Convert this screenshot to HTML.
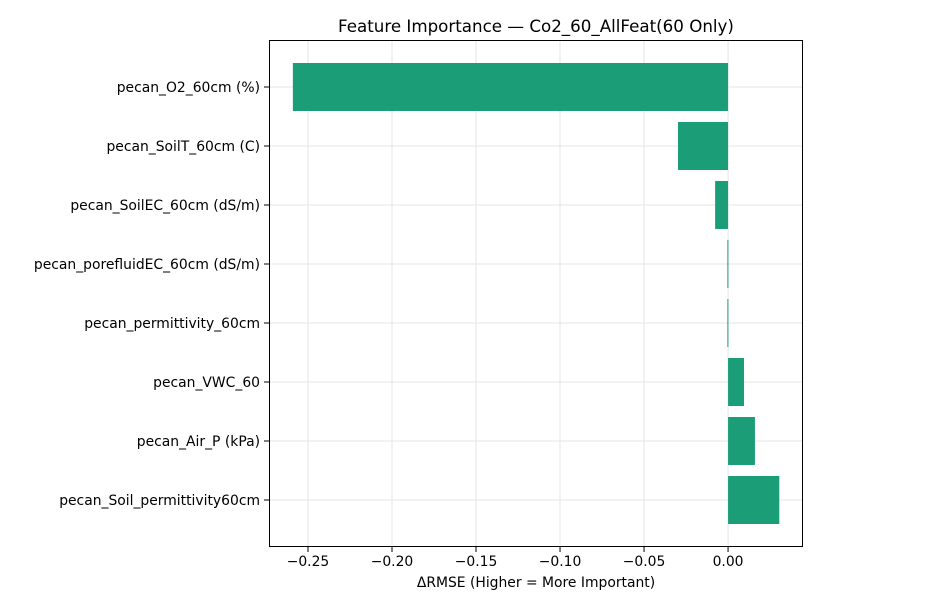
<!DOCTYPE html>
<html><head><meta charset="utf-8"><style>
body{margin:0;background:#fff;width:925px;height:612px;overflow:hidden;font-family:"DejaVu Sans","Liberation Sans",sans-serif}
</style></head><body>
<svg id="chart" width="925" height="612" style="font-family:'DejaVu Sans','Liberation Sans',sans-serif"></svg>
<script>
const features=["pecan_O2_60cm (%)","pecan_SoilT_60cm (C)","pecan_SoilEC_60cm (dS/m)","pecan_porefluidEC_60cm (dS/m)","pecan_permittivity_60cm","pecan_VWC_60","pecan_Air_P (kPa)","pecan_Soil_permittivity60cm"];
const importance=[-0.259,-0.0298,-0.0077,-0.0004,-0.0004,0.0095,0.016,0.0305];
const xTicks=[-0.25,-0.20,-0.15,-0.10,-0.05,0.00];
const xTickLabels=["\u22120.25","\u22120.20","\u22120.15","\u22120.10","\u22120.05","0.00"];
const NS="http://www.w3.org/2000/svg";
const svg=document.getElementById('chart');
const L=269,R=803,T=40,B=547;
const xMin=-0.2732,xMax=0.0446;
const x=v=>L+(v-xMin)/(xMax-xMin)*(R-L);
const y=i=>87+i*59;
function mk(tag,attrs){const e=document.createElementNS(NS,tag);for(const k in attrs)e.setAttribute(k,attrs[k]);svg.appendChild(e);return e;}
xTicks.forEach((t,i)=>{
 const g=mk('line',{x1:x(t),x2:x(t),y1:T,y2:B,stroke:'#e5e5e5','stroke-width':1});
 
 
});
features.forEach((f,i)=>{
 const g=mk('line',{x1:L,x2:R,y1:y(i),y2:y(i),stroke:'#e5e5e5','stroke-width':1});
 
 
});
importance.forEach((v,i)=>{
 const x0=Math.min(x(0),x(v)),w=Math.max(Math.abs(x(v)-x(0)),1);
 const r=mk('rect',{x:x0,y:y(i)-24,width:w,height:48,fill:'#1b9e77'});
 
 
});
const fr=mk('rect',{x:L+0.5,y:T+0.5,width:R-L-1,height:B-T-1,fill:'none',stroke:'#000','stroke-width':1});


xTicks.forEach((t,i)=>{
 mk('line',{x1:x(t),x2:x(t),y1:B,y2:B+5,stroke:'#000'});
 const tx=mk('text',{x:x(t),y:B+19,'text-anchor':'middle','font-size':13.9,fill:'#000'});
 tx.textContent=xTickLabels[i];
 
 
});
features.forEach((f,i)=>{
 mk('line',{x1:L-5,x2:L,y1:y(i),y2:y(i),stroke:'#000'});
 const tx=mk('text',{x:L-9,y:y(i)+5,'text-anchor':'end','font-size':13.9,fill:'#000'});
 tx.textContent=f;
 
 
});
const xt=mk('text',{x:(L+R)/2,y:587,'text-anchor':'middle','font-size':13.9,fill:'#000'});
xt.textContent='\u0394RMSE (Higher = More Important)';


const ti=mk('text',{x:(L+R)/2,y:32,'text-anchor':'middle','font-size':16.7,fill:'#000'});
ti.textContent='Feature Importance \u2014 Co2_60_AllFeat(60 Only)';


</script>
</body></html>
